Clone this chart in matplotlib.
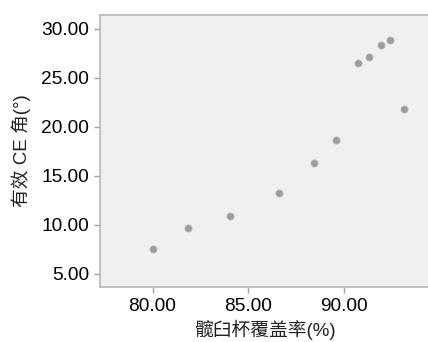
import matplotlib
matplotlib.use("Agg")
import matplotlib.pyplot as plt

coverage = [80.0, 81.83, 84.03, 86.61, 88.42, 89.58, 90.74, 91.28, 91.95, 92.39, 93.1]
ce_angle = [7.55, 9.66, 10.92, 13.27, 16.33, 18.7, 26.46, 27.14, 28.37, 28.84, 21.84]
x_ticks = [80, 85, 90]
y_ticks = [5, 10, 15, 20, 25, 30]

plt.rcParams['font.family'] = ['Liberation Sans', 'Noto Sans CJK SC']

fig = plt.figure(figsize=(4.28, 3.42), dpi=100)
ax = fig.add_axes([100/428, 55/342, 1 - 100/428 + 0.01, (287-15)/342])
ax.set_facecolor('#f0f0f0')
ax.scatter(coverage, ce_angle, s=26, color='#9c9c9c', edgecolors='#b5b5b5', linewidths=0.6, zorder=3)

ax.set_xlim(77.26, 94.6)
ax.set_ylim(3.67, 31.4)
ax.set_xticks(x_ticks)
ax.set_xticklabels([f"{v:.2f}" for v in x_ticks])
ax.set_yticks(y_ticks)
ax.set_yticklabels([f"{v:.2f}" for v in y_ticks])
ax.tick_params(axis='both', length=4, width=1, color='#a0a0a0', labelsize=13.8, labelcolor='#000000', pad=4)
for s in ['left', 'bottom', 'top']:
    ax.spines[s].set_color('#b8b8b8')
    ax.spines[s].set_linewidth(1.2)
ax.spines['right'].set_visible(False)

ax.set_xlabel('髋臼杯覆盖率(%)', fontsize=13.5, color='#222222', labelpad=3)
ax.set_ylabel('有效 CE 角(°)', fontsize=13.5, color='#222222', labelpad=7)

fig.savefig('out.png', dpi=100)
